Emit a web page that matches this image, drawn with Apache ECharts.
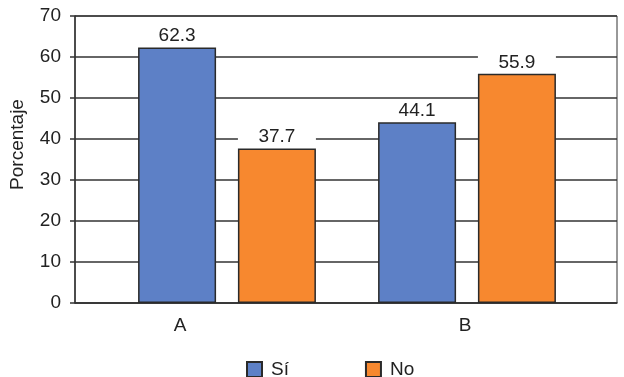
<!DOCTYPE html>
<html>
<head>
<meta charset="utf-8">
<script src="https://cdn.jsdelivr.net/npm/echarts@6/dist/echarts.min.js"></script>
<style>
  html, body { margin: 0; padding: 0; background: #fff; }
  #chart { width: 624px; height: 377px; }
</style>
</head>
<body>
<div id="chart"></div>
<script>
// data
const categories = ['A', 'B'];
const siValues = [62.3, 44.1];
const noValues = [37.7, 55.9];
const yTicks = { min: 0, max: 70, interval: 10 };

const font = 'Liberation Sans, Arial, sans-serif';
const ink = '#222';

const chart = echarts.init(document.getElementById('chart'));

const labelStyle = {
    show: true,
    position: 'top',
    distance: 1,
    color: ink,
    fontFamily: font,
    fontSize: 19,
    backgroundColor: '#fff',
    width: 74,
    align: 'center',
    padding: [2, 2, 1, 2],
    formatter: p => p.value.toFixed(1)
};

chart.setOption({
    animation: false,
    textStyle: { fontFamily: font },
    grid: [
        // visible frame with gridlines
        { left: 73, right: 7, top: 16, bottom: 74, show: true, borderColor: '#333', borderWidth: 1 },
        // grid that holds the bars
        { left: 107, right: 37, top: 16, bottom: 74 }
    ],
    xAxis: [
        {
            gridIndex: 0, type: 'category', data: categories,
            axisLine: { lineStyle: { color: '#333', width: 1.5 } },
            axisTick: { show: false },
            axisLabel: { show: false }
        },
        {
            gridIndex: 1, type: 'category', data: categories,
            axisLine: { show: false },
            axisTick: { show: false },
            axisLabel: {
                color: ink, fontSize: 19, margin: 13,
                formatter: v => v === 'A' ? '{a|A}' : '{b|B}',
                rich: {
                    a: { fontSize: 19, color: ink, padding: [0, 94, 0, 0] },
                    b: { fontSize: 19, color: ink, padding: [0, 4, 0, 0] }
                }
            }
        }
    ],
    yAxis: [
        {
            gridIndex: 0, type: 'value',
            min: yTicks.min, max: yTicks.max, interval: yTicks.interval,
            name: 'Porcentaje', nameLocation: 'middle', nameGap: 48,
            nameTextStyle: { color: ink, fontSize: 19, padding: [0, 0, 0, 30] },
            axisLine: { show: true, lineStyle: { color: '#333', width: 1.5 } },
            axisTick: { show: true, length: 5, lineStyle: { color: '#333', width: 1.5 } },
            axisLabel: { color: ink, fontSize: 19, margin: 14 },
            splitLine: { lineStyle: { color: '#333', width: 1.5 } }
        },
        {
            gridIndex: 1, type: 'value',
            min: yTicks.min, max: yTicks.max, interval: yTicks.interval,
            show: false, splitLine: { show: false }
        }
    ],
    legend: {
        top: 360,
        left: 246,
        padding: 0,
        itemWidth: 15,
        itemHeight: 15,
        itemGap: 76,
        icon: 'rect',
        textStyle: { color: ink, fontSize: 19, padding: [0, 0, 0, 4] },
        data: ['Sí', 'No']
    },
    series: [
        {
            name: 'Sí', type: 'bar', xAxisIndex: 1, yAxisIndex: 1,
            data: siValues, barWidth: 78, barGap: '28%',
            itemStyle: { color: '#5d80c6', borderColor: '#2a2a2a', borderWidth: 1.5 },
            label: labelStyle
        },
        {
            name: 'No', type: 'bar', xAxisIndex: 1, yAxisIndex: 1,
            data: noValues, barWidth: 78,
            itemStyle: { color: '#f7882f', borderColor: '#2a2a2a', borderWidth: 1.5 },
            label: labelStyle
        }
    ]
});
</script>
</body>
</html>
